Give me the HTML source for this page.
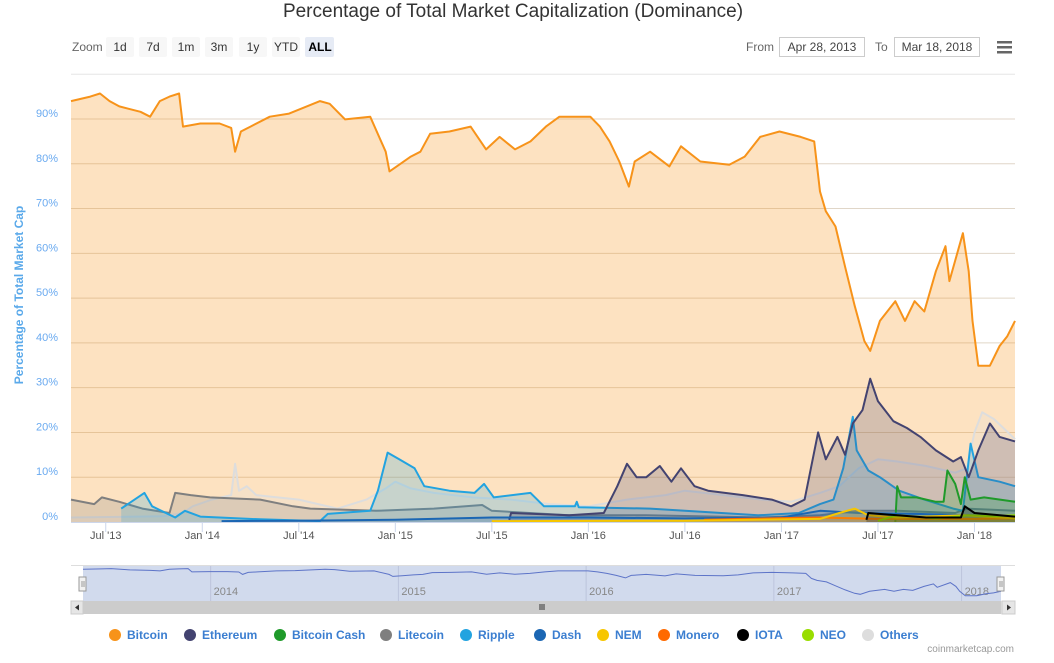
<!DOCTYPE html>
<html><head><meta charset="utf-8"><style>
html,body{margin:0;padding:0;background:#fff;}
body{width:1054px;height:658px;overflow:hidden;font-family:"Liberation Sans",sans-serif;}
svg text{font-family:"Liberation Sans",sans-serif;}
</style></head><body>
<svg id="chart" width="1054" height="658" xmlns="http://www.w3.org/2000/svg">
<text x="513" y="17" text-anchor="middle" font-size="19" fill="#333">Percentage of Total Market Capitalization (Dominance)</text>
<g>
<text x="72" y="51" font-size="12" fill="#666">Zoom</text>
<g><rect x="106" y="37" width="28" height="20" rx="2" fill="#f7f7f7"/><text x="120" y="51" text-anchor="middle" font-size="12" fill="#333">1d</text></g>
<g><rect x="139" y="37" width="28" height="20" rx="2" fill="#f7f7f7"/><text x="153" y="51" text-anchor="middle" font-size="12" fill="#333">7d</text></g>
<g><rect x="172" y="37" width="28" height="20" rx="2" fill="#f7f7f7"/><text x="186" y="51" text-anchor="middle" font-size="12" fill="#333">1m</text></g>
<g><rect x="205" y="37" width="28" height="20" rx="2" fill="#f7f7f7"/><text x="219" y="51" text-anchor="middle" font-size="12" fill="#333">3m</text></g>
<g><rect x="239" y="37" width="28" height="20" rx="2" fill="#f7f7f7"/><text x="253" y="51" text-anchor="middle" font-size="12" fill="#333">1y</text></g>
<g><rect x="272" y="37" width="28" height="20" rx="2" fill="#f7f7f7"/><text x="286" y="51" text-anchor="middle" font-size="12" fill="#333">YTD</text></g>
<g><rect x="305" y="37" width="29" height="20" rx="2" fill="#e6ebf5"/><text x="320" y="51" text-anchor="middle" font-size="12" font-weight="bold" fill="#000">ALL</text></g>
<text x="746" y="51" font-size="12" fill="#666">From</text>
<g><rect x="779.5" y="37.5" width="85" height="19" fill="#fff" stroke="#ccc"/><text x="822" y="51" text-anchor="middle" font-size="12" fill="#444">Apr 28, 2013</text></g>
<text x="875" y="51" font-size="12" fill="#666">To</text>
<g><rect x="894.5" y="37.5" width="85" height="19" fill="#fff" stroke="#ccc"/><text x="937" y="51" text-anchor="middle" font-size="12" fill="#444">Mar 18, 2018</text></g>
<g><rect x="997" y="41" width="15" height="2.5" fill="#666"/><rect x="997" y="46" width="15" height="2.5" fill="#666"/><rect x="997" y="51" width="15" height="2.5" fill="#666"/></g>
</g>
<text transform="translate(23,295) rotate(-90)" text-anchor="middle" font-size="12" font-weight="bold" fill="#5aa9ea">Percentage of Total Market Cap</text>
<g id="grid"></g><g id="series"></g><g id="xaxis"></g><g id="nav"></g><g id="legend"></g>
<text x="1014" y="652" text-anchor="end" font-size="10" fill="#999">coinmarketcap.com</text>
</svg>
<script>
const names=["Bitcoin","Ethereum","Bitcoin Cash","Litecoin","Ripple","Dash","NEM","Monero","IOTA","NEO","Others"];
const colors=["#f7931a","#434370","#1f9a2a","#7f7f7f","#22a3e0","#1b66b3","#f7c600","#ff6a00","#000000","#99dd00","#dddddd"];
const yTicks=[0,10,20,30,40,50,60,70,80,90];
const xTickDates=[2013.5,2014.0,2014.5,2015.0,2015.5,2016.0,2016.5,2017.0,2017.5,2018.0];
const xTickLabels=["Jul '13","Jan '14","Jul '14","Jan '15","Jul '15","Jan '16","Jul '16","Jan '17","Jul '17","Jan '18"];
const navYears=[2014,2015,2016,2017,2018];
const btcDates=[2013.32,2013.42,2013.47,2013.52,2013.57,2013.68,2013.73,2013.78,2013.83,2013.88,2013.9,2013.99,2014.09,2014.15,2014.17,2014.2,2014.25,2014.35,2014.45,2014.61,2014.66,2014.74,2014.87,2014.95,2014.97,2015.02,2015.08,2015.13,2015.18,2015.28,2015.39,2015.47,2015.54,2015.62,2015.7,2015.78,2015.85,2016.01,2016.06,2016.11,2016.16,2016.21,2016.24,2016.32,2016.42,2016.48,2016.58,2016.73,2016.81,2016.89,2016.99,2017.1,2017.17,2017.2,2017.23,2017.28,2017.33,2017.38,2017.43,2017.46,2017.51,2017.59,2017.64,2017.69,2017.74,2017.8,2017.85,2017.87,2017.94,2017.97,2017.99,2018.02,2018.08,2018.13,2018.17,2018.21];
const btcValues=[94,95,95.7,94,92.8,91.6,90.5,94,95,95.7,88.3,89,89,88,82.7,87.2,88.3,90.5,91.2,94,93.4,89.9,90.5,82.7,78.3,79.8,81.6,82.7,86.7,87.2,88.3,83.2,86,83.2,85,88.3,90.5,90.5,88.3,85,80.5,74.9,80.5,82.7,79.4,83.9,80.5,79.8,81.6,86,87.2,86,85,73.8,69.4,66,57,48.2,40.4,38.2,44.9,49.3,44.9,49.3,47,56,61.6,53.8,64.5,56,44.9,34.9,34.9,39.3,41.5,44.9];
const ethDates=[2015.59,2015.6,2015.9,2016.08,2016.15,2016.2,2016.25,2016.3,2016.37,2016.43,2016.48,2016.55,2016.62,2016.8,2016.95,2017.05,2017.12,2017.19,2017.23,2017.29,2017.33,2017.37,2017.42,2017.46,2017.5,2017.58,2017.65,2017.72,2017.8,2017.89,2017.93,2017.97,2018.02,2018.08,2018.13,2018.21];
const ethValues=[0.5,2,1.5,2,8,13,10,10,12.5,9,12,8,7,6,5,3.5,5,20,14,19,15,22,25,32,27,22.5,21,19,16,13.5,14.5,10,16,22,19,18];
const bchDates=[2017.59,2017.6,2017.62,2017.7,2017.8,2017.84,2017.86,2017.9,2017.93,2017.95,2017.98,2018.05,2018.21];
const bchValues=[0,8,5.5,5.5,4.5,4.5,11.5,8.5,4,10,5,5.5,4.5];
const ltcDates=[2013.32,2013.44,2013.48,2013.57,2013.69,2013.83,2013.86,2013.94,2014.04,2014.3,2014.47,2014.56,2014.9,2015.2,2015.45,2015.5,2015.9,2016.3,2016.9,2017.2,2017.4,2017.6,2017.9,2017.96,2018.21];
const ltcValues=[5,4,5.5,4.5,3,2,6.5,6,5.5,5,3.5,3,2.5,3,3.8,2.5,1.5,1.5,1,1.5,2.5,2.5,2,3,2.5];
const xrpDates=[2013.58,2013.7,2013.74,2013.86,2013.91,2013.99,2014.3,2014.61,2014.65,2014.87,2014.91,2014.96,2015.02,2015.1,2015.15,2015.28,2015.41,2015.46,2015.51,2015.7,2015.77,2015.93,2015.94,2015.95,2016.32,2016.88,2017.09,2017.2,2017.27,2017.32,2017.37,2017.39,2017.45,2017.51,2017.61,2017.74,2017.89,2017.94,2017.98,2018.02,2018.13,2018.21];
const xrpValues=[3,6.5,3.5,1,2.5,1.2,0.6,0.2,1.8,2.5,7,15.5,14,12,8,7,6.5,8.5,5.5,6.5,3.5,3.5,4.5,3.3,3,1.5,2,4,5,12,23.5,16,11.5,10,7,5,3,2.5,17.5,10,9,8];
const dashDates=[2014.1,2014.5,2015.0,2015.5,2016.0,2016.5,2017.0,2017.2,2017.4,2017.7,2017.95,2018.21];
const dashValues=[0.2,0.3,0.5,1,1,0.8,1,2.5,2,1.8,1.5,1.3];
const nemDates=[2015.5,2016.5,2017.2,2017.3,2017.38,2017.45,2017.6,2017.95,2018.21];
const nemValues=[0.2,0.3,0.7,2,3,1.5,1,1.5,0.8];
const xmrDates=[2016.6,2016.8,2017.2,2017.5,2018.0,2018.21];
const xmrValues=[0.5,0.7,1,0.7,0.7,0.8];
const iotaDates=[2017.44,2017.45,2017.6,2017.75,2017.93,2017.95,2018.0,2018.21];
const iotaValues=[0.5,2,1.5,1,1,3.5,2,1.2];
const neoDates=[2017.5,2017.6,2017.8,2017.97,2018.1,2018.21];
const neoValues=[0.3,1.5,0.8,1.5,1.3,1.5];
const othDates=[2013.32,2013.8,2013.9,2013.95,2014.05,2014.15,2014.17,2014.19,2014.23,2014.28,2014.5,2014.7,2014.85,2014.95,2015.0,2015.08,2015.2,2015.4,2015.6,2015.8,2016.0,2016.2,2016.4,2016.5,2016.7,2016.9,2017.05,2017.2,2017.3,2017.4,2017.5,2017.6,2017.75,2017.9,2017.96,2018.0,2018.04,2018.1,2018.15,2018.21];
const othValues=[1,1.3,2,3.5,5,6,13,7,8,6,5,3,5,7.5,9,7.5,6.5,5.5,5,4,3.5,5,6,7,6,5,4.5,6.5,8,12,14,13.5,12.5,11,12,20,24.5,23,21,18.5];

const NS="http://www.w3.org/2000/svg";
const X0=71,X1=1015,D0=2013.32,D1=2018.21,Y0=522,PP=4.478;
const xs=d=>X0+(d-D0)/(D1-D0)*(X1-X0);
const ys=v=>Y0-v*PP;
function mk(tag,attrs,parent){const e=document.createElementNS(NS,tag);for(const k in attrs)e.setAttribute(k,attrs[k]);parent.appendChild(e);return e;}
const grid=document.getElementById('grid');
const topLine=mk('line',{x1:X0,x2:X1,y1:ys(100),y2:ys(100),stroke:'#e6e6e6','stroke-width':1},grid);


yTicks.forEach(t=>{
  if(t>0){const l=mk('line',{x1:X0,x2:X1,y1:ys(t),y2:ys(t),stroke:'#e0d6c8','stroke-width':1},grid);
  
  }
  const tx=mk('text',{x:58,y:ys(t)-2,'text-anchor':'end','font-size':11,fill:'#6aaaf0'},grid);
  tx.textContent=t+'%';
  
  
});
const sg=document.getElementById('series');
const sets=[[btcDates,btcValues,0,'bitcoin'],[othDates,othValues,10,'others'],[ltcDates,ltcValues,3,'litecoin'],[xrpDates,xrpValues,4,'ripple'],[ethDates,ethValues,1,'ethereum'],[bchDates,bchValues,2,'bitcoin-cash'],[dashDates,dashValues,5,'dash'],[xmrDates,xmrValues,7,'monero'],[nemDates,nemValues,6,'nem'],[neoDates,neoValues,9,'neo'],[iotaDates,iotaValues,8,'iota']];
sets.forEach(([ds,vs,ci,nm])=>{
  let pts=ds.map((d,i)=>xs(d).toFixed(1)+','+ys(vs[i]).toFixed(1));
  const area=mk('path',{d:'M'+xs(ds[0]).toFixed(1)+','+Y0+' L'+pts.join(' L')+' L'+xs(ds[ds.length-1]).toFixed(1)+','+Y0+' Z',fill:colors[ci],'fill-opacity':ci===0?0.27:0.22,stroke:'none'},sg);
  
  
  const line=mk('path',{d:'M'+pts.join(' L'),fill:'none',stroke:colors[ci],'stroke-width':2,'stroke-linejoin':'round'},sg);
  
  
});
const xa=document.getElementById('xaxis');
const axl=mk('line',{x1:X0,x2:X1,y1:Y0+0.5,y2:Y0+0.5,stroke:'#ccd6eb'},xa);


xTickDates.forEach((d,i)=>{
  const tk=mk('line',{x1:xs(d),x2:xs(d),y1:Y0,y2:Y0+10,stroke:'#ccd6eb'},xa);
  
  
  const t=mk('text',{x:xs(d),y:539,'text-anchor':'middle','font-size':11,fill:'#555'},xa);
  t.textContent=xTickLabels[i];
  
  
});
const nav=document.getElementById('nav');
const N0=83,N1=1001,NT=566,NB=601;
const nx=d=>N0+(d-D0)/(D1-D0)*(N1-N0);
const ny=v=>NB-3-(v-30)/(97-30)*(NB-NT-5);
const nbg=mk('rect',{x:N0,y:NT,width:N1-N0,height:NB-NT,fill:'rgba(102,133,194,0.3)'},nav);


mk('line',{x1:71,x2:1015,y1:NT-0.5,y2:NT-0.5,stroke:'#ddd'},nav);
navYears.forEach(y=>{
  const g=mk('line',{x1:nx(y),x2:nx(y),y1:NT,y2:NB,stroke:'#bcc4dc'},nav);
  
  
  const t=mk('text',{x:nx(y)+3,y:NB-6,'font-size':11,fill:'#888'},nav);
  t.textContent=y;
  
  
});
const npl=mk('path',{d:'M'+btcDates.map((d,i)=>nx(d).toFixed(1)+','+ny(btcValues[i]).toFixed(1)).join(' L'),fill:'none',stroke:'#5d74c8','stroke-width':1},nav);


[N0,N1].forEach((hx,i)=>{
  const h=mk('rect',{x:hx-4,y:577,width:7,height:14,fill:'#f2f2f2',stroke:'#999'},nav);
  
  
  mk('line',{x1:hx-1,x2:hx-1,y1:581,y2:587,stroke:'#999'},nav);
  mk('line',{x1:hx+1,x2:hx+1,y1:581,y2:587,stroke:'#999'},nav);
});
const sb=mk('rect',{x:71,y:601,width:944,height:13,fill:'#e6e6e6'},nav);


const th=mk('rect',{x:N0,y:601,width:N1-N0,height:13,fill:'#cccccc'},nav);


mk('path',{d:'M540,604 v6 M542,604 v6 M544,604 v6',stroke:'#333'},nav);
const lb=mk('rect',{x:71,y:601,width:12,height:13,fill:'#e6e6e6',stroke:'#ccc'},nav);


mk('path',{d:'M79,604.5 L75,607.5 L79,610.5 Z',fill:'#333'},nav);
const rb=mk('rect',{x:1002,y:601,width:13,height:13,fill:'#e6e6e6',stroke:'#ccc'},nav);


mk('path',{d:'M1007,604.5 L1011,607.5 L1007,610.5 Z',fill:'#333'},nav);
const lg=document.getElementById('legend');
const legX=[115,190,280,386,466,540,603,664,743,808,868];
names.forEach((n,i)=>{
  const g=mk('g',{},lg);
  
  
  mk('circle',{cx:legX[i],cy:635,r:6,fill:colors[i]},g);
  const t=mk('text',{x:legX[i]+12,y:639,'font-size':12,'font-weight':'bold',fill:'#3b7ed0'},g);
  t.textContent=n;
});
</script>
</body></html>
